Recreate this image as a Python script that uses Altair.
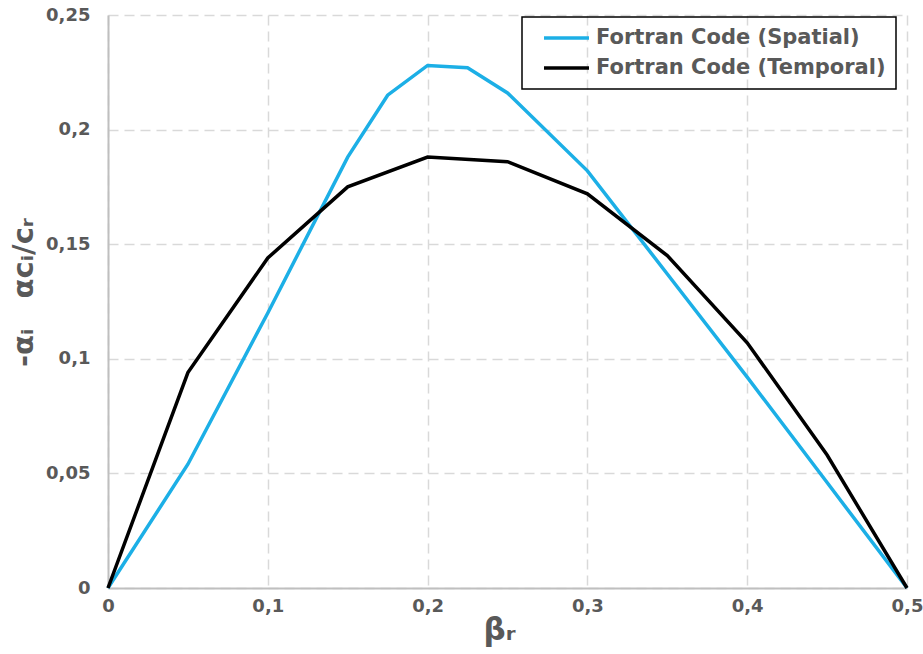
import altair as alt
import pandas as pd

beta = [0.0, 0.05, 0.10, 0.15, 0.175, 0.20, 0.225, 0.25, 0.30, 0.35, 0.40, 0.45, 0.50]
spatial = [0.0, 0.054, 0.120, 0.188, 0.215, 0.228, 0.227, 0.216, 0.182, 0.137, 0.092, 0.046, 0.0]

beta_t = [0.0, 0.05, 0.10, 0.15, 0.20, 0.25, 0.30, 0.35, 0.40, 0.45, 0.50]
temporal = [0.0, 0.094, 0.144, 0.175, 0.188, 0.186, 0.172, 0.145, 0.107, 0.058, 0.0]

series_names = ["Fortran Code (Spatial)", "Fortran Code (Temporal)"]
series_colors = ["#1CAFE6", "#000000"]

x_ticks = [0, 0.1, 0.2, 0.3, 0.4, 0.5]
y_ticks = [0, 0.05, 0.1, 0.15, 0.2, 0.25]

rows = []
for i, (b, v) in enumerate(zip(beta, spatial)):
    rows.append({"beta": b, "val": v, "series": series_names[0], "ord": i})
for i, (b, v) in enumerate(zip(beta_t, temporal)):
    rows.append({"beta": b, "val": v, "series": series_names[1], "ord": i})
df = pd.DataFrame(rows)

FONT = "DejaVu Sans"
GREY = "#595959"
lbl = "replace(format(datum.value, '~g'), '.', ',')"
NB = "\u00a0"

chart = alt.Chart(df).mark_line(strokeWidth=3.5).encode(
    x=alt.X("beta:Q",
            scale=alt.Scale(domain=[0, 0.5], nice=False),
            axis=alt.Axis(values=x_ticks, labelExpr=lbl, title="βᵣ",
                          titleX=391, titlePadding=0, titleFontSize=31,
                          labelFlush=False)),
    y=alt.Y("val:Q",
            scale=alt.Scale(domain=[0, 0.25], nice=False),
            axis=alt.Axis(values=y_ticks, labelExpr=lbl,
                          title="-αᵢ" + NB * 3 + "αcᵢ/cᵣ",
                          titleY=277, titlePadding=7, titleFontSize=29,
                          labelFlush=False)),
    color=alt.Color("series:N",
                    scale=alt.Scale(domain=series_names, range=series_colors),
                    legend=alt.Legend(title=None, orient="none", legendX=414, legendY=2,
                                      symbolType="stroke", symbolSize=2025,
                                      symbolStrokeWidth=3.5, labelFont=FONT,
                                      labelFontSize=21, labelFontWeight="bold",
                                      labelColor=GREY, labelOffset=5,
                                      strokeColor="#000000", padding=10,
                                      symbolOffset=10, clipHeight=22, rowPadding=8,
                                      labelLimit=400)),
    order="ord:Q",
).properties(
    width=799, height=573,
    autosize=alt.AutoSizeParams(type="none"),
    padding={"left": 108, "top": 15, "right": 16, "bottom": 66},
).configure_view(stroke=None).configure_axis(
    labelFont=FONT, labelFontSize=18, labelFontWeight="bold", labelColor=GREY,
    titleFont=FONT, titleFontWeight="bold", titleColor=GREY,
    grid=True, gridColor="#d9d9d9", gridDash=[10, 6], gridWidth=1.5,
    domainColor="#bfbfbf", domainWidth=2, ticks=False, tickSize=0,
    labelPadding=9,
).configure_axisY(labelPadding=18).configure_legend(
    strokeWidth=1.5
)

chart.save("out.html", embed_options={"renderer": "svg", "actions": False})
